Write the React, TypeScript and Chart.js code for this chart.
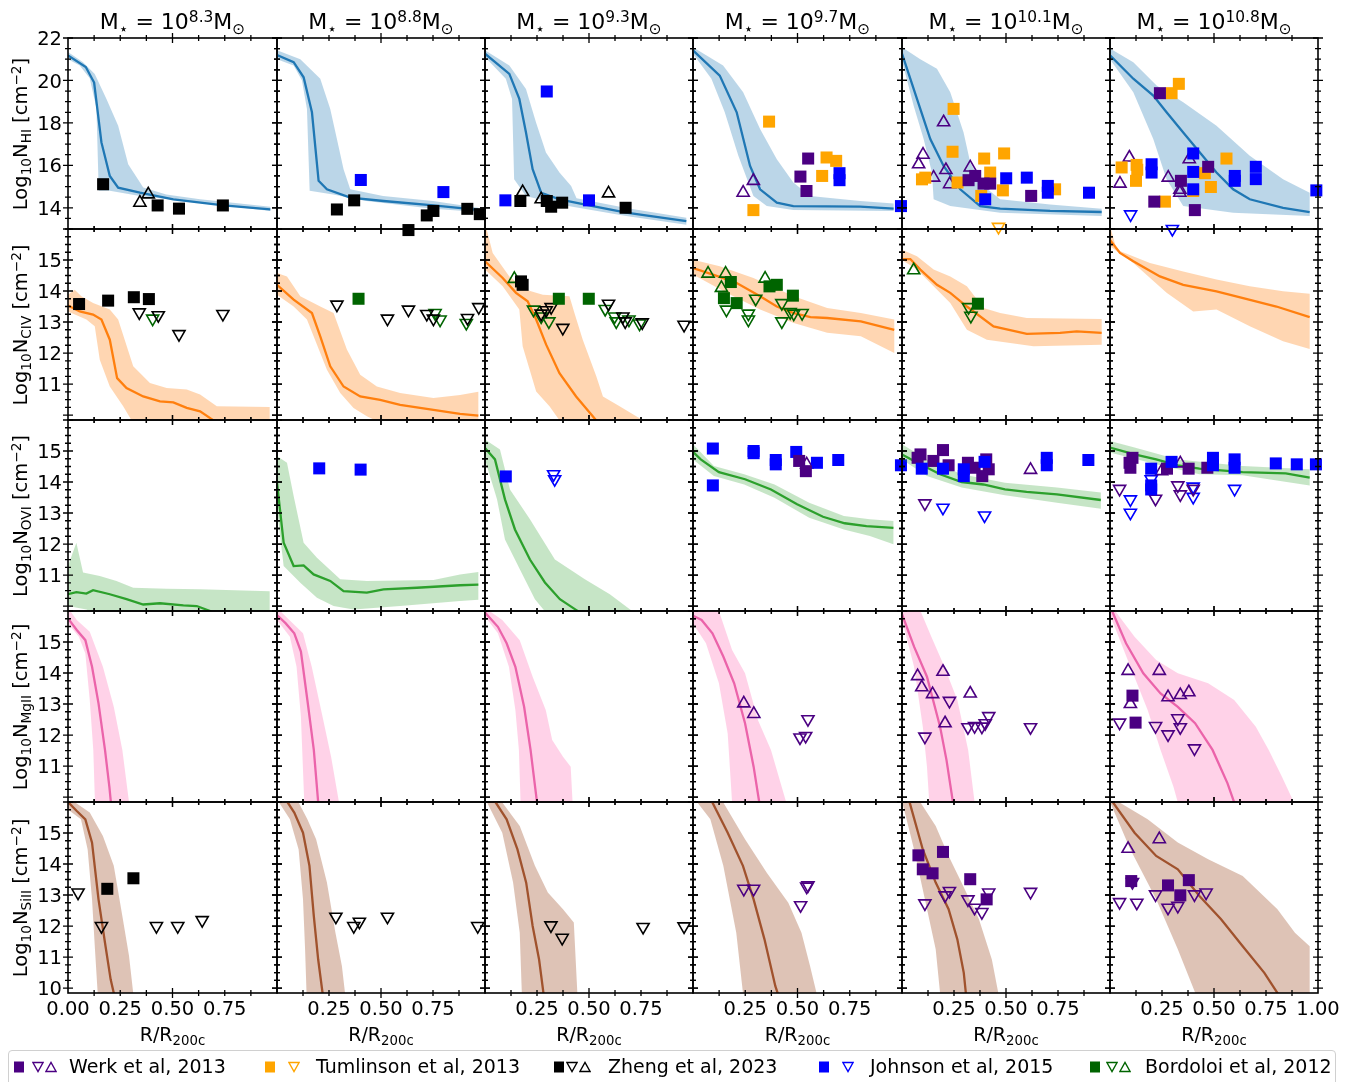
import React, { useEffect, useRef } from 'react';
import { Chart, registerables } from 'chart.js';
Chart.register(...registerables);

type Pt = [number, number];

// ---------------- labels ----------------
const MASS_EXPONENTS = ['8.3', '8.8', '9.3', '9.7', '10.1', '10.8'];
const IONS = ['HI', 'CIV', 'OVI', 'MgII', 'SiII'];
const Y_RANGES: Pt[] = [[13, 22], [9.84, 16], [9.84, 16], [9.84, 16], [9.84, 16]];
const Y_LABELS_HI = [14, 16, 18, 20, 22];
const Y_LABELS_ION = [11, 12, 13, 14, 15];
const Y_LABELS_SIII = [10, 11, 12, 13, 14, 15];
const X_LABELS_FIRST = [0, 0.25, 0.5, 0.75];
const X_LABELS_MID = [0.25, 0.5, 0.75];
const X_LABELS_LAST = [0.25, 0.5, 0.75, 1.0];
const X_MAJOR_TICKS = [0.5];
const X_MINOR_TICKS = [0.125, 0.25, 0.375, 0.625, 0.75, 0.875];
const HI_MAJOR_TICKS = [14, 16, 18, 20, 22];
const HI_MINOR_TICKS = [13, 13.5, 14.5, 15, 15.5, 16.5, 17, 17.5, 18.5, 19, 19.5, 20.5, 21, 21.5];
const ION_MAJOR_TICKS = [10, 11, 12, 13, 14, 15, 16];
const ION_MINOR_TICKS = [10.25, 10.5, 10.75, 11.25, 11.5, 11.75, 12.25, 12.5, 12.75, 13.25, 13.5, 13.75, 14.25, 14.5, 14.75, 15.25, 15.5, 15.75];

// ---------------- colours ----------------
const WERK = '#4b0082';
const TUMLINSON = '#ffa500';
const ZHENG = '#000000';
const JOHNSON = '#0000ff';
const BORDOLOI = '#006400';
const LINE_COLORS = ['#1f77b4', '#ff7f0e', '#2ca02c', 'rgb(235,100,170)', '#a0522d'];
const BAND_COLORS = ['rgba(31,119,180,0.3)', 'rgba(255,127,14,0.32)', 'rgba(44,160,44,0.27)', 'rgba(255,105,180,0.3)', 'rgba(160,82,45,0.35)'];

const LEGEND_NAMES = ['Werk et al, 2013', 'Tumlinson et al, 2013', 'Zheng et al, 2023', 'Johnson et al, 2015', 'Bordoloi et al, 2012'];
const LEGEND_COLORS = [WERK, TUMLINSON, ZHENG, JOHNSON, BORDOLOI];
const LEGEND_SHAPES = [['sq', 'dn', 'up'], ['sq', 'dn'], ['sq', 'dn', 'up'], ['sq', 'dn'], ['sq', 'dn', 'up']];

// ---------------- HI ----------------
const HI1_MED: Pt[] = [[0, 21.18], [0.085, 20.63], [0.125, 19.9], [0.16, 17.08], [0.2, 15.5], [0.24, 14.95], [0.344, 14.71], [0.504, 14.4], [0.744, 14.11], [0.968, 13.92]];
const HI1_UP: Pt[] = [[0, 21.34], [0.072, 20.86], [0.128, 20.3], [0.184, 19.13], [0.24, 17.87], [0.288, 16.05], [0.36, 14.95], [0.47, 14.63], [0.632, 14.4], [0.968, 14.05]];
const HI1_LO: Pt[] = [[0, 21.0], [0.056, 20.7], [0.104, 20.1], [0.136, 18.7], [0.147, 14.8], [0.2, 14.8], [0.344, 14.55], [0.632, 14.24], [0.968, 13.85]];
const HI2_MED: Pt[] = [[0, 21.2], [0.08, 20.86], [0.128, 20.15], [0.168, 18.5], [0.2, 15.27], [0.24, 14.87], [0.352, 14.48], [0.512, 14.32], [0.752, 14.11], [0.968, 13.9]];
const HI2_UP: Pt[] = [[0, 21.42], [0.112, 21.0], [0.208, 20.08], [0.256, 18.66], [0.288, 17.24], [0.32, 15.82], [0.352, 14.87], [0.51, 14.56], [0.75, 14.32], [0.968, 14.0]];
const HI2_LO: Pt[] = [[0, 21.0], [0.08, 20.7], [0.12, 20.0], [0.144, 18.66], [0.157, 14.8], [0.27, 14.63], [0.43, 14.32], [0.75, 13.96], [0.968, 13.8]];
const HI3_MED: Pt[] = [[0, 21.26], [0.117, 20.31], [0.165, 19.13], [0.197, 17.55], [0.229, 15.82], [0.27, 14.71], [0.358, 14.4], [0.518, 14.08], [0.679, 13.77], [0.968, 13.37]];
const HI3_UP: Pt[] = [[0, 21.42], [0.117, 20.7], [0.197, 19.6], [0.245, 18.03], [0.293, 16.6], [0.358, 15.66], [0.414, 15.03], [0.44, 14.45], [0.679, 13.99], [0.968, 13.53]];
const HI3_LO: Pt[] = [[0, 21.1], [0.1, 20.08], [0.13, 19.13], [0.14, 15.34], [0.197, 14.56], [0.358, 14.16], [0.679, 13.61], [0.968, 13.2]];
const HI4_MED: Pt[] = [[0, 21.42], [0.128, 20.23], [0.209, 18.5], [0.273, 15.97], [0.321, 14.87], [0.401, 14.24], [0.48, 14.08], [0.8, 14.05], [0.96, 13.96]];
const HI4_UP: Pt[] = [[0, 21.57], [0.144, 20.7], [0.24, 19.44], [0.321, 17.71], [0.401, 16.29], [0.48, 15.19], [0.56, 14.56], [0.8, 14.32], [0.96, 14.2]];
const HI4_LO: Pt[] = [[0, 21.26], [0.088, 20.08], [0.152, 18.5], [0.217, 16.45], [0.289, 14.56], [0.353, 14.08], [0.48, 13.89], [0.96, 13.85]];
const HI5_MED: Pt[] = [[0, 21.26], [0.072, 19.13], [0.136, 17.24], [0.2, 15.97], [0.28, 14.87], [0.376, 14.08], [0.472, 13.96], [0.712, 13.85], [0.96, 13.8]];
const HI5_UP: Pt[] = [[0, 21.57], [0.088, 21.0], [0.168, 20.55], [0.232, 19.44], [0.296, 17.55], [0.328, 16.13], [0.392, 15.03], [0.472, 14.4], [0.712, 14.16], [0.96, 13.96]];
const HI5_LO: Pt[] = [[0, 20.94], [0.056, 18.81], [0.104, 17.24], [0.144, 15.66], [0.152, 14.4], [0.232, 14.08], [0.472, 13.77], [0.96, 13.61]];
const HI6_MED: Pt[] = [[0, 21.18], [0.112, 20.08], [0.208, 19.29], [0.272, 18.5], [0.352, 17.55], [0.432, 16.6], [0.512, 15.66], [0.592, 14.87], [0.672, 14.4], [0.832, 14.0], [0.96, 13.8]];
const HI6_UP: Pt[] = [[0, 21.5], [0.112, 20.86], [0.224, 19.76], [0.352, 18.97], [0.512, 17.87], [0.672, 16.45], [0.832, 15.34], [0.96, 14.71]];
const HI6_LO: Pt[] = [[0, 21.0], [0.112, 19.44], [0.208, 17.24], [0.272, 15.34], [0.352, 14.08], [0.592, 13.77], [0.96, 13.61]];

// ---------------- CIV ----------------
const CIV1_MED: Pt[] = [[0, 13.53], [0.056, 13.34], [0.12, 13.24], [0.16, 13.08], [0.2, 12.43], [0.235, 11.19], [0.28, 10.87], [0.36, 10.6], [0.44, 10.44], [0.504, 10.41], [0.568, 10.23], [0.632, 10.12], [0.696, 9.83], [0.75, 9.5]];
const CIV1_UP: Pt[] = [[0, 13.88], [0.032, 14.04], [0.064, 13.83], [0.12, 13.61], [0.2, 13.4], [0.24, 13.08], [0.312, 11.57], [0.392, 11.03], [0.472, 10.87], [0.568, 10.82], [0.632, 10.66], [0.712, 10.28], [0.965, 10.26]];
const CIV1_LO: Pt[] = [[0, 13.34], [0.088, 13.08], [0.128, 12.86], [0.152, 11.78], [0.2, 10.92], [0.264, 10.28], [0.304, 9.83], [0.35, 9.4], [0.965, 9.4]];
const CIV2_MED: Pt[] = [[0, 14.2], [0.08, 13.72], [0.168, 13.29], [0.208, 12.54], [0.256, 11.57], [0.32, 10.92], [0.4, 10.6], [0.496, 10.49], [0.592, 10.33], [0.752, 10.17], [0.88, 10.04], [0.968, 9.98]];
const CIV2_UP: Pt[] = [[0, 14.58], [0.048, 14.47], [0.112, 13.83], [0.208, 13.5], [0.272, 13.29], [0.336, 12.11], [0.4, 11.3], [0.48, 10.92], [0.592, 10.71], [0.752, 10.55], [0.88, 10.65], [0.968, 10.75]];
const CIV2_LO: Pt[] = [[0, 13.88], [0.08, 13.5], [0.144, 13.08], [0.176, 12.54], [0.24, 11.46], [0.304, 10.71], [0.368, 10.23], [0.432, 9.96], [0.512, 9.7], [0.968, 9.5]];
const CIV3_MED: Pt[] = [[0, 14.96], [0.085, 14.42], [0.149, 13.94], [0.205, 13.67], [0.246, 13.08], [0.294, 12.27], [0.358, 11.35], [0.438, 10.6], [0.518, 9.96], [0.6, 9.3]];
const CIV3_UP: Pt[] = [[0, 16.2], [0.037, 15.23], [0.117, 14.47], [0.197, 14.04], [0.278, 13.88], [0.406, 13.83], [0.43, 13.29], [0.47, 12.43], [0.535, 11.25], [0.567, 10.6], [0.647, 10.28], [0.743, 9.9], [0.8, 9.5]];
const CIV3_LO: Pt[] = [[0, 14.69], [0.085, 14.15], [0.165, 13.4], [0.181, 12.22], [0.246, 10.76], [0.31, 10.28], [0.358, 9.83], [0.4, 9.5]];
const CIV4_MED: Pt[] = [[0, 14.74], [0.096, 14.53], [0.209, 14.26], [0.321, 13.83], [0.401, 13.5], [0.482, 13.29], [0.562, 13.16], [0.642, 13.13], [0.803, 13.02], [0.963, 12.75]];
const CIV4_UP: Pt[] = [[0, 15.01], [0.128, 14.8], [0.289, 14.42], [0.482, 13.83], [0.642, 13.45], [0.803, 13.29], [0.963, 13.08]];
const CIV4_LO: Pt[] = [[0, 14.53], [0.16, 13.94], [0.321, 13.4], [0.482, 12.97], [0.642, 12.65], [0.803, 12.54], [0.963, 12.0]];
const CIV5_MED: Pt[] = [[0, 15.03], [0.04, 15.03], [0.088, 14.69], [0.168, 14.2], [0.232, 13.94], [0.312, 13.5], [0.44, 12.86], [0.6, 12.62], [0.76, 12.65], [0.84, 12.7], [0.96, 12.65]];
const CIV5_UP: Pt[] = [[0, 15.33], [0.072, 15.12], [0.152, 14.69], [0.232, 14.47], [0.312, 14.15], [0.392, 13.45], [0.472, 13.29], [0.6, 13.13], [0.96, 13.1]];
const CIV5_LO: Pt[] = [[0, 15.0], [0.072, 14.69], [0.152, 14.15], [0.232, 13.61], [0.312, 12.75], [0.408, 12.43], [0.632, 12.22], [0.96, 12.27]];
const CIV6_MED: Pt[] = [[0, 15.65], [0.048, 15.23], [0.112, 14.96], [0.24, 14.47], [0.352, 14.2], [0.512, 13.99], [0.64, 13.77], [0.8, 13.5], [0.96, 13.16]];
const CIV6_UP: Pt[] = [[0, 16.1], [0.032, 15.33], [0.192, 14.9], [0.352, 14.63], [0.512, 14.37], [0.672, 14.15], [0.832, 13.99], [0.96, 13.91]];
const CIV6_LO: Pt[] = [[0, 15.44], [0.112, 14.9], [0.272, 13.94], [0.4, 13.34], [0.512, 13.4], [0.672, 12.86], [0.832, 12.38], [0.96, 12.13]];

// ---------------- OVI ----------------
const OVI1_MED: Pt[] = [[0, 10.38], [0.04, 10.45], [0.088, 10.4], [0.12, 10.51], [0.2, 10.38], [0.28, 10.22], [0.36, 10.05], [0.44, 10.09], [0.552, 10.02], [0.616, 10.0], [0.68, 9.84], [0.75, 9.6]];
const OVI1_UP: Pt[] = [[0, 11.29], [0.04, 12.04], [0.072, 11.08], [0.152, 10.97], [0.232, 10.81], [0.312, 10.59], [0.472, 10.56], [0.632, 10.54], [0.965, 10.48]];
const OVI1_LO: Pt[] = [[0, 10.0], [0.088, 9.89], [0.152, 9.7], [0.965, 9.5]];
const OVI2_MED: Pt[] = [[0, 13.98], [0.032, 12.04], [0.08, 11.29], [0.128, 11.31], [0.176, 11.02], [0.256, 10.81], [0.32, 10.48], [0.432, 10.43], [0.512, 10.54], [0.672, 10.59], [0.88, 10.67], [0.968, 10.69]];
const OVI2_UP: Pt[] = [[0, 14.84], [0.048, 14.62], [0.08, 13.55], [0.128, 12.04], [0.192, 11.56], [0.304, 10.86], [0.432, 10.81], [0.752, 10.84], [0.88, 11.02], [0.968, 11.1]];
const OVI2_LO: Pt[] = [[0, 13.12], [0.032, 11.29], [0.112, 10.75], [0.192, 10.27], [0.272, 10.0], [0.368, 9.89], [0.592, 10.0], [0.88, 10.16], [0.968, 10.2]];
const OVI3_MED: Pt[] = [[0, 15.1], [0.048, 14.73], [0.096, 13.44], [0.144, 12.47], [0.216, 11.5], [0.288, 10.76], [0.36, 10.22], [0.432, 9.9], [0.5, 9.6]];
const OVI3_UP: Pt[] = [[0, 15.37], [0.072, 15.05], [0.12, 13.76], [0.216, 12.8], [0.336, 11.5], [0.48, 10.86], [0.6, 10.38], [0.696, 9.9], [0.75, 9.6]];
const OVI3_LO: Pt[] = [[0, 14.73], [0.058, 13.44], [0.096, 12.15], [0.168, 11.18], [0.24, 10.22], [0.288, 9.83], [0.33, 9.5]];
const OVI4_MED: Pt[] = [[0, 14.97], [0.037, 14.73], [0.124, 14.32], [0.249, 14.09], [0.373, 13.76], [0.498, 13.28], [0.622, 12.88], [0.726, 12.67], [0.83, 12.58], [0.959, 12.52]];
const OVI4_UP: Pt[] = [[0, 15.22], [0.1, 14.52], [0.245, 14.25], [0.39, 13.92], [0.556, 13.33], [0.722, 12.9], [0.846, 12.8], [0.959, 12.74]];
const OVI4_LO: Pt[] = [[0, 14.73], [0.1, 14.19], [0.245, 13.92], [0.39, 13.49], [0.556, 12.85], [0.722, 12.47], [0.846, 12.26], [0.959, 11.99]];
const OVI5_MED: Pt[] = [[0, 14.89], [0.058, 14.68], [0.183, 14.25], [0.287, 14.0], [0.391, 13.92], [0.495, 13.76], [0.599, 13.68], [0.745, 13.6], [0.956, 13.42]];
const OVI5_UP: Pt[] = [[0, 15.22], [0.12, 14.73], [0.287, 14.25], [0.495, 13.98], [0.745, 13.82], [0.956, 13.66]];
const OVI5_LO: Pt[] = [[0, 14.73], [0.12, 14.19], [0.287, 13.82], [0.495, 13.57], [0.745, 13.33], [0.956, 13.14]];
const OVI6_MED: Pt[] = [[0, 15.11], [0.118, 14.89], [0.222, 14.73], [0.326, 14.54], [0.43, 14.43], [0.637, 14.32], [0.845, 14.28], [0.96, 14.14]];
const OVI6_UP: Pt[] = [[0, 15.32], [0.118, 15.11], [0.326, 14.73], [0.637, 14.52], [0.96, 14.41]];
const OVI6_LO: Pt[] = [[0, 14.95], [0.222, 14.57], [0.43, 14.25], [0.637, 14.22], [0.96, 13.89]];

// ---------------- MgII ----------------
const MG1_MED: Pt[] = [[0, 15.76], [0.042, 15.39], [0.083, 15.06], [0.115, 14.2], [0.146, 13.02], [0.177, 11.52], [0.198, 10.33], [0.21, 9.5]];
const MG1_UP: Pt[] = [[0, 16.1], [0.042, 15.71], [0.104, 15.33], [0.167, 14.2], [0.219, 12.91], [0.26, 11.52], [0.292, 9.83], [0.3, 9.5]];
const MG1_LO: Pt[] = [[0, 15.6], [0.052, 15.17], [0.083, 14.63], [0.104, 13.13], [0.121, 11.52], [0.129, 9.83], [0.13, 9.5]];
const MG2_MED: Pt[] = [[0, 15.87], [0.042, 15.6], [0.083, 15.28], [0.115, 14.69], [0.146, 13.13], [0.177, 11.52], [0.198, 9.83], [0.2, 9.5]];
const MG2_UP: Pt[] = [[0, 16.1], [0.052, 15.76], [0.125, 15.28], [0.167, 14.2], [0.219, 12.59], [0.26, 11.3], [0.298, 9.83], [0.3, 9.5]];
const MG2_LO: Pt[] = [[0, 15.71], [0.062, 15.17], [0.094, 14.2], [0.115, 12.59], [0.131, 9.83], [0.133, 9.5]];
const MG3_MED: Pt[] = [[0, 15.95], [0.062, 15.49], [0.104, 14.96], [0.146, 14.2], [0.188, 12.91], [0.219, 11.52], [0.25, 9.83], [0.255, 9.5]];
const MG3_UP: Pt[] = [[0, 16.1], [0.083, 15.71], [0.167, 15.06], [0.229, 13.88], [0.292, 12.81], [0.323, 11.84], [0.375, 11.3], [0.412, 10.98], [0.421, 9.83], [0.422, 9.5]];
const MG3_LO: Pt[] = [[0, 15.82], [0.062, 15.28], [0.115, 14.2], [0.146, 12.81], [0.163, 11.52], [0.171, 9.83], [0.173, 9.5]];
const MG4_MED: Pt[] = [[0, 15.85], [0.041, 15.71], [0.093, 15.28], [0.145, 14.53], [0.197, 13.67], [0.249, 12.38], [0.29, 10.98], [0.317, 9.83], [0.325, 9.5]];
const MG4_UP: Pt[] = [[0, 16.1], [0.124, 16.0], [0.187, 14.74], [0.249, 13.99], [0.311, 12.48], [0.373, 11.52], [0.446, 9.83], [0.45, 9.5]];
const MG4_LO: Pt[] = [[0, 15.6], [0.062, 14.96], [0.124, 13.67], [0.166, 12.05], [0.187, 9.83], [0.19, 9.5]];
const MG5_MED: Pt[] = [[0, 15.9], [0.058, 14.85], [0.12, 13.88], [0.183, 12.27], [0.214, 11.19], [0.245, 9.83], [0.25, 9.5]];
const MG5_UP: Pt[] = [[0, 16.1], [0.089, 16.0], [0.141, 15.17], [0.204, 14.2], [0.266, 13.13], [0.318, 11.52], [0.349, 9.83], [0.355, 9.5]];
const MG5_LO: Pt[] = [[0, 15.71], [0.058, 14.2], [0.1, 12.27], [0.12, 10.98], [0.131, 9.83], [0.135, 9.5]];
const MG6_MED: Pt[] = [[0.01, 16.0], [0.077, 14.96], [0.16, 13.99], [0.243, 13.34], [0.326, 12.91], [0.409, 12.38], [0.493, 11.52], [0.565, 10.44], [0.597, 9.83], [0.61, 9.5]];
const MG6_UP: Pt[] = [[0, 16.1], [0.025, 16.0], [0.118, 15.17], [0.222, 14.42], [0.326, 13.99], [0.472, 13.67], [0.597, 13.13], [0.701, 12.27], [0.763, 11.52], [0.826, 10.66], [0.884, 9.83], [0.89, 9.5]];
const MG6_LO: Pt[] = [[0, 15.87], [0.098, 14.2], [0.181, 12.81], [0.243, 11.52], [0.305, 10.33], [0.326, 9.83], [0.33, 9.5]];

// ---------------- SiII ----------------
const SI1_MED: Pt[] = [[0, 16.0], [0.042, 15.71], [0.083, 15.44], [0.115, 14.69], [0.146, 12.86], [0.177, 11.46], [0.204, 10.28], [0.219, 9.84], [0.225, 9.5]];
const SI1_UP: Pt[] = [[0, 16.2], [0.031, 16.0], [0.104, 15.66], [0.167, 14.9], [0.219, 13.94], [0.26, 12.32], [0.292, 11.03], [0.312, 9.84], [0.315, 9.5]];
const SI1_LO: Pt[] = [[0, 15.76], [0.062, 15.44], [0.094, 14.47], [0.115, 12.86], [0.129, 11.25], [0.142, 9.84], [0.145, 9.5]];
const SI2_MED: Pt[] = [[0.04, 16.2], [0.052, 15.98], [0.083, 15.66], [0.125, 15.01], [0.156, 13.94], [0.177, 12.32], [0.198, 10.92], [0.219, 9.84], [0.225, 9.5]];
const SI2_UP: Pt[] = [[0.09, 16.2], [0.104, 15.98], [0.146, 15.44], [0.188, 14.8], [0.24, 13.4], [0.281, 11.78], [0.312, 10.71], [0.327, 9.84], [0.33, 9.5]];
const SI2_LO: Pt[] = [[0, 16.2], [0.01, 15.98], [0.062, 15.44], [0.104, 14.47], [0.125, 12.86], [0.135, 11.25], [0.142, 9.84], [0.145, 9.5]];
const SI3_MED: Pt[] = [[0.04, 16.2], [0.052, 15.98], [0.104, 15.44], [0.156, 14.47], [0.198, 13.4], [0.229, 12.0], [0.26, 10.92], [0.281, 9.84], [0.285, 9.5]];
const SI3_UP: Pt[] = [[0.07, 16.2], [0.083, 15.98], [0.167, 15.23], [0.24, 13.94], [0.302, 13.08], [0.375, 12.54], [0.427, 12.11], [0.444, 9.84], [0.445, 9.5]];
const SI3_LO: Pt[] = [[0, 16.2], [0.01, 15.98], [0.083, 15.01], [0.135, 13.4], [0.167, 11.78], [0.177, 9.84], [0.18, 9.5]];
const SI4_MED: Pt[] = [[0.08, 16.2], [0.093, 15.98], [0.166, 15.01], [0.239, 13.94], [0.29, 12.86], [0.342, 11.57], [0.394, 10.06], [0.405, 9.84], [0.41, 9.5]];
const SI4_UP: Pt[] = [[0.13, 16.2], [0.145, 15.98], [0.249, 14.8], [0.353, 13.72], [0.456, 12.75], [0.519, 11.78], [0.56, 10.71], [0.591, 9.84], [0.6, 9.5]];
const SI4_LO: Pt[] = [[0.01, 16.2], [0.021, 15.98], [0.083, 15.44], [0.145, 13.94], [0.207, 11.78], [0.239, 9.84], [0.245, 9.5]];
const SI5_MED: Pt[] = [[0.03, 16.2], [0.037, 15.98], [0.1, 14.47], [0.162, 13.4], [0.224, 12.54], [0.266, 11.57], [0.297, 10.49], [0.307, 9.84], [0.31, 9.5]];
const SI5_UP: Pt[] = [[0.08, 16.2], [0.089, 15.98], [0.162, 15.23], [0.224, 14.26], [0.286, 13.4], [0.37, 12.22], [0.432, 10.92], [0.463, 9.84], [0.47, 9.5]];
const SI5_LO: Pt[] = [[0, 16.0], [0.006, 15.87], [0.058, 14.47], [0.11, 12.86], [0.162, 11.25], [0.183, 9.84], [0.19, 9.5]];
const SI6_MED: Pt[] = [[0, 16.2], [0.015, 15.98], [0.118, 15.01], [0.222, 14.26], [0.326, 13.83], [0.43, 12.97], [0.534, 12.22], [0.638, 11.35], [0.742, 10.49], [0.805, 9.84], [0.82, 9.5]];
const SI6_UP: Pt[] = [[0.03, 16.2], [0.046, 15.98], [0.181, 15.44], [0.326, 14.69], [0.472, 14.15], [0.638, 13.61], [0.805, 12.54], [0.889, 11.78], [0.96, 11.35], [0.96, 9.5]];
const SI6_LO: Pt[] = [[0, 16.0], [0.098, 14.47], [0.222, 12.86], [0.326, 11.25], [0.41, 9.84], [0.42, 9.5]];

// ---------------- observations ----------------
const HI1_ZHENG_SQ: Pt[] = [[0.168, 15.11], [0.429, 14.11], [0.531, 13.96], [0.741, 14.11]];
const HI1_ZHENG_UP: Pt[] = [[0.344, 14.24], [0.384, 14.63]];
const HI2_ZHENG_SQ: Pt[] = [[0.288, 13.92], [0.371, 14.35], [0.632, 12.95], [0.72, 13.64], [0.752, 13.85], [0.915, 13.95], [0.975, 13.7]];
const HI2_JOHNSON_SQ: Pt[] = [[0.403, 15.31], [0.8, 14.74]];
const HI3_JOHNSON_SQ: Pt[] = [[0.297, 19.48], [0.098, 14.35], [0.5, 14.35]];
const HI3_ZHENG_SQ: Pt[] = [[0.17, 14.32], [0.297, 14.32], [0.318, 14.05], [0.371, 14.24], [0.676, 14.0]];
const HI3_ZHENG_UP: Pt[] = [[0.181, 14.74], [0.27, 14.4], [0.594, 14.68]];
const HI4_TUMLINSON_SQ: Pt[] = [[0.364, 18.06], [0.289, 13.89], [0.639, 16.37], [0.685, 16.21], [0.618, 15.5]];
const HI4_WERK_SQ: Pt[] = [[0.551, 16.32], [0.514, 15.47], [0.543, 14.79]];
const HI4_JOHNSON_SQ: Pt[] = [[0.701, 15.63], [0.701, 15.3], [0.995, 14.08]];
const HI4_WERK_UP: Pt[] = [[0.24, 14.71], [0.289, 15.27]];
const HI5_TUMLINSON_SQ: Pt[] = [[0.248, 18.66], [0.243, 16.64], [0.112, 15.42], [0.096, 15.34], [0.267, 15.19], [0.395, 16.32], [0.491, 16.56], [0.424, 15.66], [0.485, 14.82], [0.381, 14.56], [0.736, 14.87]];
const HI5_WERK_SQ: Pt[] = [[0.32, 15.3], [0.352, 15.5], [0.392, 15.14], [0.424, 15.14], [0.621, 14.56]];
const HI5_JOHNSON_SQ: Pt[] = [[0.501, 15.39], [0.6, 15.42], [0.701, 15.03], [0.701, 14.71], [0.899, 14.71], [0.4, 14.4]];
const HI5_WERK_UP: Pt[] = [[0.2, 18.03], [0.101, 16.5], [0.08, 16.05], [0.152, 15.42], [0.211, 15.78], [0.229, 15.11], [0.328, 15.9]];
const HI5_TUMLINSON_DN: Pt[] = [[0.464, 13.1]];
const HI6_WERK_SQ: Pt[] = [[0.24, 19.4], [0.472, 15.93], [0.341, 15.27], [0.213, 14.29], [0.408, 13.89]];
const HI6_TUMLINSON_SQ: Pt[] = [[0.296, 19.4], [0.331, 19.84], [0.056, 15.9], [0.128, 16.02], [0.131, 15.79], [0.125, 15.27], [0.456, 15.63], [0.485, 14.98], [0.56, 16.32], [0.264, 14.29], [0.4, 14.79]];
const HI6_JOHNSON_SQ: Pt[] = [[0.2, 16.05], [0.2, 15.66], [0.4, 16.56], [0.4, 15.69], [0.4, 14.87], [0.6, 15.5], [0.6, 15.27], [0.701, 15.93], [0.701, 15.35], [0.992, 14.82]];
const HI6_WERK_UP: Pt[] = [[0.093, 16.37], [0.048, 15.14], [0.28, 15.42], [0.381, 16.29], [0.336, 14.85], [0.336, 14.71]];
const HI6_JOHNSON_DN: Pt[] = [[0.099, 13.69], [0.3, 13.0]];

const CIV1_ZHENG_SQ: Pt[] = [[0.053, 13.58], [0.192, 13.69], [0.315, 13.8], [0.387, 13.74]];
const CIV1_ZHENG_DN: Pt[] = [[0.341, 13.31], [0.432, 13.22], [0.531, 12.61], [0.741, 13.26]];
const CIV1_BORDOLOI_DN: Pt[] = [[0.405, 13.11]];
const CIV2_ZHENG_DN: Pt[] = [[0.288, 13.56], [0.531, 13.11], [0.632, 13.4], [0.72, 13.26], [0.752, 13.11], [0.916, 13.13], [0.97, 13.48]];
const CIV2_BORDOLOI_SQ: Pt[] = [[0.392, 13.75]];
const CIV2_BORDOLOI_DN: Pt[] = [[0.76, 13.29], [0.784, 13.08], [0.91, 12.97]];
const CIV3_ZHENG_SQ: Pt[] = [[0.173, 14.31], [0.181, 14.2]];
const CIV3_BORDOLOI_UP: Pt[] = [[0.141, 14.39]];
const CIV3_BORDOLOI_SQ: Pt[] = [[0.355, 13.75], [0.499, 13.75]];
const CIV3_BORDOLOI_DN: Pt[] = [[0.233, 13.4], [0.27, 13.18], [0.307, 13.02], [0.578, 13.42], [0.623, 13.18], [0.631, 13.02], [0.692, 13.08], [0.743, 12.95]];
const CIV3_ZHENG_DN: Pt[] = [[0.27, 13.27], [0.294, 13.38], [0.318, 13.48], [0.374, 12.81], [0.594, 13.59], [0.663, 13.18], [0.674, 13.02], [0.756, 12.99], [0.957, 12.91]];
const CIV4_BORDOLOI_UP: Pt[] = [[0.072, 14.56], [0.156, 14.56], [0.136, 14.1], [0.345, 14.4]];
const CIV4_BORDOLOI_SQ: Pt[] = [[0.181, 14.29], [0.148, 13.77], [0.209, 13.61], [0.366, 14.15], [0.401, 14.2], [0.478, 13.85]];
const CIV4_BORDOLOI_DN: Pt[] = [[0.16, 13.4], [0.265, 13.08], [0.265, 13.27], [0.3, 13.75], [0.425, 13.61], [0.425, 13.02], [0.465, 13.32], [0.482, 13.27], [0.522, 13.29]];
const CIV5_BORDOLOI_UP: Pt[] = [[0.056, 14.67]];
const CIV5_BORDOLOI_SQ: Pt[] = [[0.365, 13.59]];
const CIV5_BORDOLOI_DN: Pt[] = [[0.32, 13.48], [0.331, 13.2]];

const OVI2_JOHNSON_SQ: Pt[] = [[0.203, 14.44], [0.402, 14.4]];
const OVI3_JOHNSON_SQ: Pt[] = [[0.1, 14.18]];
const OVI3_JOHNSON_DN: Pt[] = [[0.33, 14.25], [0.335, 14.09]];
const OVI4_JOHNSON_SQ: Pt[] = [[0.095, 15.08], [0.095, 13.89], [0.29, 15.0], [0.29, 14.93], [0.396, 14.71], [0.396, 14.57], [0.494, 14.97], [0.593, 14.62], [0.695, 14.71], [0.995, 14.54]];
const OVI4_WERK_SQ: Pt[] = [[0.508, 14.68], [0.54, 14.35]];
const OVI4_WERK_UP: Pt[] = [[0.544, 14.57]];
const OVI5_WERK_SQ: Pt[] = [[0.089, 14.89], [0.075, 14.78], [0.197, 15.03], [0.151, 14.68], [0.224, 14.54], [0.317, 14.62], [0.349, 14.46], [0.405, 14.73], [0.417, 14.41], [0.386, 14.19]];
const OVI5_JOHNSON_SQ: Pt[] = [[0.095, 14.43], [0.197, 14.43], [0.297, 14.41], [0.297, 14.19], [0.397, 14.65], [0.696, 14.78], [0.696, 14.54], [0.896, 14.71]];
const OVI5_WERK_UP: Pt[] = [[0.618, 14.39]];
const OVI5_WERK_DN: Pt[] = [[0.11, 13.31]];
const OVI5_JOHNSON_DN: Pt[] = [[0.197, 13.17], [0.397, 12.92]];
const OVI6_WERK_SQ: Pt[] = [[0.094, 14.62], [0.108, 14.78], [0.098, 14.46], [0.274, 14.43], [0.378, 14.43], [0.468, 14.46]];
const OVI6_JOHNSON_SQ: Pt[] = [[0.198, 14.43], [0.198, 13.89], [0.198, 13.76], [0.296, 14.65], [0.495, 14.78], [0.495, 14.54], [0.599, 14.73], [0.599, 14.46], [0.797, 14.6], [0.898, 14.57], [0.99, 14.57]];
const OVI6_WERK_UP: Pt[] = [[0.338, 14.6], [0.248, 14.35]];
const OVI6_WERK_DN: Pt[] = [[0.046, 13.78], [0.219, 13.46], [0.326, 13.89], [0.338, 13.6], [0.4, 13.78]];
const OVI6_JOHNSON_DN: Pt[] = [[0.098, 13.44], [0.098, 13.01], [0.198, 14.09], [0.4, 13.85], [0.4, 13.52], [0.599, 13.78]];

const MG4_WERK_UP: Pt[] = [[0.243, 13.02], [0.291, 12.68]];
const MG4_WERK_DN: Pt[] = [[0.55, 12.51], [0.512, 11.92], [0.539, 11.97]];
const MG5_WERK_UP: Pt[] = [[0.075, 13.9], [0.197, 14.04], [0.095, 13.54], [0.147, 13.32], [0.328, 13.34], [0.207, 12.38]];
const MG5_WERK_DN: Pt[] = [[0.11, 11.95], [0.228, 13.1], [0.317, 12.25], [0.349, 12.29], [0.384, 12.27], [0.4, 12.38], [0.417, 12.61], [0.618, 12.25]];
const MG6_WERK_SQ: Pt[] = [[0.108, 13.27], [0.123, 12.4]];
const MG6_WERK_UP: Pt[] = [[0.087, 14.07], [0.237, 14.07], [0.098, 13.0], [0.279, 13.22], [0.338, 13.29], [0.379, 13.38]];
const MG6_WERK_DN: Pt[] = [[0.046, 12.4], [0.219, 12.29], [0.279, 12.02], [0.326, 12.54], [0.338, 12.25], [0.406, 11.57]];

const SI1_ZHENG_SQ: Pt[] = [[0.188, 13.2], [0.313, 13.54]];
const SI1_ZHENG_DN: Pt[] = [[0.048, 13.08], [0.16, 12.0], [0.423, 12.0], [0.525, 12.0], [0.642, 12.19]];
const SI2_ZHENG_DN: Pt[] = [[0.283, 12.3], [0.369, 12.0], [0.396, 12.14], [0.531, 12.3], [0.965, 12.0]];
const SI3_ZHENG_DN: Pt[] = [[0.317, 12.02], [0.371, 11.62], [0.76, 11.97], [0.957, 11.99]];
const SI4_WERK_DN: Pt[] = [[0.243, 13.2], [0.29, 13.2], [0.515, 12.67], [0.544, 13.27], [0.55, 13.31]];
const SI5_WERK_SQ: Pt[] = [[0.079, 14.28], [0.197, 14.39], [0.1, 13.83], [0.147, 13.7], [0.328, 13.51], [0.407, 12.86]];
const SI5_WERK_DN: Pt[] = [[0.11, 12.73], [0.207, 12.99], [0.228, 13.13], [0.317, 12.86], [0.349, 12.59], [0.384, 12.45], [0.417, 13.08], [0.618, 13.1]];
const SI6_WERK_UP: Pt[] = [[0.087, 14.49], [0.237, 14.8]];
const SI6_WERK_SQ: Pt[] = [[0.102, 13.45], [0.279, 13.31], [0.338, 12.99], [0.379, 13.48]];
const SI6_WERK_DN: Pt[] = [[0.046, 12.77], [0.129, 12.75], [0.219, 13.02], [0.279, 12.59], [0.326, 12.65], [0.406, 13.02], [0.462, 13.08], [0.108, 13.42]];

// ---------------- panel table ----------------
type Obs = [string, 'sq' | 'up' | 'dn', Pt[]];
type Panel = { r: number; c: number; med: Pt[]; up: Pt[]; lo: Pt[]; obs: Obs[] };

const PANELS: Panel[] = [
  { r: 0, c: 0, med: HI1_MED, up: HI1_UP, lo: HI1_LO, obs: [[ZHENG, 'sq', HI1_ZHENG_SQ], [ZHENG, 'up', HI1_ZHENG_UP]] },
  { r: 0, c: 1, med: HI2_MED, up: HI2_UP, lo: HI2_LO, obs: [[ZHENG, 'sq', HI2_ZHENG_SQ], [JOHNSON, 'sq', HI2_JOHNSON_SQ]] },
  { r: 0, c: 2, med: HI3_MED, up: HI3_UP, lo: HI3_LO, obs: [[JOHNSON, 'sq', HI3_JOHNSON_SQ], [ZHENG, 'sq', HI3_ZHENG_SQ], [ZHENG, 'up', HI3_ZHENG_UP]] },
  { r: 0, c: 3, med: HI4_MED, up: HI4_UP, lo: HI4_LO, obs: [[TUMLINSON, 'sq', HI4_TUMLINSON_SQ], [WERK, 'sq', HI4_WERK_SQ], [JOHNSON, 'sq', HI4_JOHNSON_SQ], [WERK, 'up', HI4_WERK_UP]] },
  { r: 0, c: 4, med: HI5_MED, up: HI5_UP, lo: HI5_LO, obs: [[JOHNSON, 'sq', HI5_JOHNSON_SQ], [WERK, 'sq', HI5_WERK_SQ], [TUMLINSON, 'sq', HI5_TUMLINSON_SQ], [WERK, 'up', HI5_WERK_UP], [TUMLINSON, 'dn', HI5_TUMLINSON_DN]] },
  { r: 0, c: 5, med: HI6_MED, up: HI6_UP, lo: HI6_LO, obs: [[JOHNSON, 'sq', HI6_JOHNSON_SQ], [WERK, 'sq', HI6_WERK_SQ], [TUMLINSON, 'sq', HI6_TUMLINSON_SQ], [WERK, 'up', HI6_WERK_UP], [JOHNSON, 'dn', HI6_JOHNSON_DN]] },

  { r: 1, c: 0, med: CIV1_MED, up: CIV1_UP, lo: CIV1_LO, obs: [[ZHENG, 'sq', CIV1_ZHENG_SQ], [ZHENG, 'dn', CIV1_ZHENG_DN], [BORDOLOI, 'dn', CIV1_BORDOLOI_DN]] },
  { r: 1, c: 1, med: CIV2_MED, up: CIV2_UP, lo: CIV2_LO, obs: [[BORDOLOI, 'sq', CIV2_BORDOLOI_SQ], [ZHENG, 'dn', CIV2_ZHENG_DN], [BORDOLOI, 'dn', CIV2_BORDOLOI_DN]] },
  { r: 1, c: 2, med: CIV3_MED, up: CIV3_UP, lo: CIV3_LO, obs: [[ZHENG, 'sq', CIV3_ZHENG_SQ], [BORDOLOI, 'sq', CIV3_BORDOLOI_SQ], [BORDOLOI, 'up', CIV3_BORDOLOI_UP], [ZHENG, 'dn', CIV3_ZHENG_DN], [BORDOLOI, 'dn', CIV3_BORDOLOI_DN]] },
  { r: 1, c: 3, med: CIV4_MED, up: CIV4_UP, lo: CIV4_LO, obs: [[BORDOLOI, 'sq', CIV4_BORDOLOI_SQ], [BORDOLOI, 'up', CIV4_BORDOLOI_UP], [BORDOLOI, 'dn', CIV4_BORDOLOI_DN]] },
  { r: 1, c: 4, med: CIV5_MED, up: CIV5_UP, lo: CIV5_LO, obs: [[BORDOLOI, 'sq', CIV5_BORDOLOI_SQ], [BORDOLOI, 'up', CIV5_BORDOLOI_UP], [BORDOLOI, 'dn', CIV5_BORDOLOI_DN]] },
  { r: 1, c: 5, med: CIV6_MED, up: CIV6_UP, lo: CIV6_LO, obs: [] },

  { r: 2, c: 0, med: OVI1_MED, up: OVI1_UP, lo: OVI1_LO, obs: [] },
  { r: 2, c: 1, med: OVI2_MED, up: OVI2_UP, lo: OVI2_LO, obs: [[JOHNSON, 'sq', OVI2_JOHNSON_SQ]] },
  { r: 2, c: 2, med: OVI3_MED, up: OVI3_UP, lo: OVI3_LO, obs: [[JOHNSON, 'sq', OVI3_JOHNSON_SQ], [JOHNSON, 'dn', OVI3_JOHNSON_DN]] },
  { r: 2, c: 3, med: OVI4_MED, up: OVI4_UP, lo: OVI4_LO, obs: [[WERK, 'sq', OVI4_WERK_SQ], [JOHNSON, 'sq', OVI4_JOHNSON_SQ], [WERK, 'up', OVI4_WERK_UP]] },
  { r: 2, c: 4, med: OVI5_MED, up: OVI5_UP, lo: OVI5_LO, obs: [[JOHNSON, 'sq', OVI5_JOHNSON_SQ], [WERK, 'sq', OVI5_WERK_SQ], [WERK, 'up', OVI5_WERK_UP], [WERK, 'dn', OVI5_WERK_DN], [JOHNSON, 'dn', OVI5_JOHNSON_DN]] },
  { r: 2, c: 5, med: OVI6_MED, up: OVI6_UP, lo: OVI6_LO, obs: [[JOHNSON, 'sq', OVI6_JOHNSON_SQ], [WERK, 'sq', OVI6_WERK_SQ], [WERK, 'up', OVI6_WERK_UP], [WERK, 'dn', OVI6_WERK_DN], [JOHNSON, 'dn', OVI6_JOHNSON_DN]] },

  { r: 3, c: 0, med: MG1_MED, up: MG1_UP, lo: MG1_LO, obs: [] },
  { r: 3, c: 1, med: MG2_MED, up: MG2_UP, lo: MG2_LO, obs: [] },
  { r: 3, c: 2, med: MG3_MED, up: MG3_UP, lo: MG3_LO, obs: [] },
  { r: 3, c: 3, med: MG4_MED, up: MG4_UP, lo: MG4_LO, obs: [[WERK, 'up', MG4_WERK_UP], [WERK, 'dn', MG4_WERK_DN]] },
  { r: 3, c: 4, med: MG5_MED, up: MG5_UP, lo: MG5_LO, obs: [[WERK, 'up', MG5_WERK_UP], [WERK, 'dn', MG5_WERK_DN]] },
  { r: 3, c: 5, med: MG6_MED, up: MG6_UP, lo: MG6_LO, obs: [[WERK, 'sq', MG6_WERK_SQ], [WERK, 'up', MG6_WERK_UP], [WERK, 'dn', MG6_WERK_DN]] },

  { r: 4, c: 0, med: SI1_MED, up: SI1_UP, lo: SI1_LO, obs: [[ZHENG, 'sq', SI1_ZHENG_SQ], [ZHENG, 'dn', SI1_ZHENG_DN]] },
  { r: 4, c: 1, med: SI2_MED, up: SI2_UP, lo: SI2_LO, obs: [[ZHENG, 'dn', SI2_ZHENG_DN]] },
  { r: 4, c: 2, med: SI3_MED, up: SI3_UP, lo: SI3_LO, obs: [[ZHENG, 'dn', SI3_ZHENG_DN]] },
  { r: 4, c: 3, med: SI4_MED, up: SI4_UP, lo: SI4_LO, obs: [[WERK, 'dn', SI4_WERK_DN]] },
  { r: 4, c: 4, med: SI5_MED, up: SI5_UP, lo: SI5_LO, obs: [[WERK, 'sq', SI5_WERK_SQ], [WERK, 'dn', SI5_WERK_DN]] },
  { r: 4, c: 5, med: SI6_MED, up: SI6_UP, lo: SI6_LO, obs: [[WERK, 'sq', SI6_WERK_SQ], [WERK, 'up', SI6_WERK_UP], [WERK, 'dn', SI6_WERK_DN]] },
];

// ---------------- layout ----------------
const COL_EDGES = [68, 277, 485, 693, 902, 1110, 1318];
const ROW_EDGES = [38, 229, 420, 611, 802, 993];
const PAD = 14;
const TICK_FONT = 19.5;

function geom(p: Panel) {
  const padL = p.c === 0 ? 66 : PAD;
  const padR = p.c === 5 ? 36 : PAD;
  const padB = p.r === 4 ? 30 : PAD;
  const L = COL_EDGES[p.c], R = COL_EDGES[p.c + 1];
  const T = ROW_EDGES[p.r], B = ROW_EDGES[p.r + 1];
  return {
    padL, padR, padT: PAD, padB,
    left: L - padL, top: T - PAD,
    width: R - L + padL + padR, height: B - T + PAD + padB,
  };
}

const axesPlugin = {
  id: 'panelAxes',
  afterDatasetsDraw(chart: any, _args: any, opts: any) {
    const { ctx, chartArea: a, scales } = chart;
    const xs = scales.x, ys = scales.y;
    ctx.save();
    ctx.strokeStyle = '#000';
    ctx.lineWidth = 1.6;
    ctx.strokeRect(a.left, a.top, a.right - a.left, a.bottom - a.top);
    ctx.lineWidth = 1.3;
    ctx.beginPath();
    const xt = (v: number, len: number) => {
      const px = xs.getPixelForValue(v);
      ctx.moveTo(px, a.top - len); ctx.lineTo(px, a.top + len);
      ctx.moveTo(px, a.bottom - len); ctx.lineTo(px, a.bottom + len);
    };
    const yt = (v: number, len: number) => {
      const py = ys.getPixelForValue(v);
      if (py < a.top - 0.5 || py > a.bottom + 0.5) return;
      ctx.moveTo(a.left - len, py); ctx.lineTo(a.left + len, py);
      ctx.moveTo(a.right - len, py); ctx.lineTo(a.right + len, py);
    };
    opts.xMajor.forEach((v: number) => xt(v, 5));
    opts.xMinor.forEach((v: number) => xt(v, 3));
    opts.yMajor.forEach((v: number) => yt(v, 5));
    opts.yMinor.forEach((v: number) => yt(v, 3));
    ctx.stroke();
    ctx.fillStyle = '#000';
    ctx.font = TICK_FONT + 'px "DejaVu Sans"';
    ctx.textBaseline = 'alphabetic';
    if (opts.yLabels) {
      ctx.textAlign = 'right';
      opts.yLabels.forEach((v: number) => {
        const py = ys.getPixelForValue(v);
        ctx.fillText(String(v), a.left - 6, py + 0.364 * TICK_FONT);
      });
    }
    if (opts.xLabels) {
      ctx.textAlign = 'center';
      opts.xLabels.forEach((v: number) => {
        const px = xs.getPixelForValue(v);
        ctx.fillText(v.toFixed(2), px, a.bottom + 22);
      });
    }
    ctx.restore();
  },
};

const toXY = (a: Pt[]) => a.map(([x, y]) => ({ x, y }));

function buildConfig(p: Panel): any {
  const g = geom(p);
  const datasets: any[] = [];
  for (const [color, kind, pts] of p.obs) {
    datasets.push({
      type: 'line',
      data: toXY(pts),
      showLine: false,
      clip: false,
      pointStyle: kind === 'sq' ? 'rect' : 'triangle',
      pointRotation: kind === 'dn' ? 180 : 0,
      pointRadius: kind === 'sq' ? 8.5 : 7,
      pointBackgroundColor: kind === 'sq' ? color : 'rgba(0,0,0,0)',
      pointBorderColor: color,
      pointBorderWidth: kind === 'sq' ? 0 : 1.6,
    });
  }
  datasets.push({
    type: 'line', data: toXY(p.med), borderColor: LINE_COLORS[p.r], borderWidth: 2.3,
    pointRadius: 0, fill: false, tension: 0,
  });
  datasets.push({
    type: 'line', data: toXY([...p.up, ...p.lo.slice().reverse()]),
    borderColor: 'rgba(0,0,0,0)', borderWidth: 0, backgroundColor: BAND_COLORS[p.r],
    fill: 'shape', pointRadius: 0, tension: 0,
  });
  const yLabels = p.c === 0 ? (p.r === 0 ? Y_LABELS_HI : p.r === 4 ? Y_LABELS_SIII : Y_LABELS_ION) : null;
  const xLabels = p.r === 4 ? (p.c === 0 ? X_LABELS_FIRST : p.c === 5 ? X_LABELS_LAST : X_LABELS_MID) : null;
  return {
    type: 'line',
    data: { datasets },
    options: {
      animation: false,
      responsive: false,
      devicePixelRatio: 1,
      events: [],
      layout: { autoPadding: false, padding: { left: g.padL, right: g.padR, top: g.padT, bottom: g.padB } },
      scales: {
        x: { type: 'linear', min: 0, max: 1, display: false },
        y: { type: 'linear', min: Y_RANGES[p.r][0], max: Y_RANGES[p.r][1], display: false },
      },
      plugins: {
        legend: { display: false },
        tooltip: { enabled: false },
        panelAxes: {
          xMajor: X_MAJOR_TICKS, xMinor: X_MINOR_TICKS,
          yMajor: p.r === 0 ? HI_MAJOR_TICKS : ION_MAJOR_TICKS,
          yMinor: p.r === 0 ? HI_MINOR_TICKS : ION_MINOR_TICKS,
          yLabels, xLabels,
        },
      },
    },
    plugins: [axesPlugin],
  };
}

const SUB: React.CSSProperties = { fontSize: '0.7em', position: 'relative', top: '0.3em' };
const SUP: React.CSSProperties = { fontSize: '0.7em', position: 'relative', top: '-0.45em' };

function LegendMarker({ kind, color, left }: { kind: string; color: string; left: number }) {
  return (
    <svg width={12} height={12} style={{ position: 'absolute', left, top: 1061 }}>
      {kind === 'sq' && <rect x={1} y={0.5} width={10} height={11} fill={color} />}
      {kind === 'dn' && <polygon points="0.9,1.5 11.1,1.5 6,10.5" fill="none" stroke={color} strokeWidth={1.4} />}
      {kind === 'up' && <polygon points="0.9,10.5 11.1,10.5 6,1.5" fill="none" stroke={color} strokeWidth={1.4} />}
    </svg>
  );
}

const LEGEND_MARKER_X = [[13, 32, 45], [264, 288], [553, 566, 579], [818, 842], [1089, 1106, 1119]];
const LEGEND_TEXT_X = [69, 316, 608, 870, 1145];

export default function App() {
  const refs = useRef<(HTMLCanvasElement | null)[]>([]);
  useEffect(() => {
    const charts = PANELS.map((p, i) => new Chart(refs.current[i] as HTMLCanvasElement, buildConfig(p)));
    return () => charts.forEach((c) => c.destroy());
  }, []);

  return (
    <div style={{ position: 'absolute', left: 0, top: 0, width: 1360, height: 1082, overflow: 'hidden', background: '#fff', fontFamily: '"DejaVu Sans", sans-serif', color: '#000' }}>
      {PANELS.map((p, i) => {
        const g = geom(p);
        return (
          <canvas key={i} ref={(el) => { refs.current[i] = el; }} width={g.width} height={g.height}
            style={{ position: 'absolute', left: g.left, top: g.top, width: g.width, height: g.height, display: 'block' }} />
        );
      })}
      {MASS_EXPONENTS.map((e, c) => (
        <div key={'t' + c} style={{ position: 'absolute', left: (COL_EDGES[c] + COL_EDGES[c + 1]) / 2, top: 9, transform: 'translateX(-50%)', fontSize: 22, lineHeight: '26px', whiteSpace: 'nowrap' }}>
          M<span style={SUB}>⋆</span> = 10<span style={SUP}>{e}</span>M<span style={SUB}>⊙</span>
        </div>
      ))}
      {IONS.map((ion, r) => (
        <div key={'y' + r} style={{ position: 'absolute', left: 21, top: (ROW_EDGES[r] + ROW_EDGES[r + 1]) / 2, transform: 'translate(-50%,-50%) rotate(-90deg)', fontSize: 19.5, lineHeight: '22px', whiteSpace: 'nowrap' }}>
          Log<span style={SUB}>10</span>N<span style={SUB}>{ion}</span> [cm<span style={SUP}>−2</span>]
        </div>
      ))}
      {MASS_EXPONENTS.map((_, c) => (
        <div key={'x' + c} style={{ position: 'absolute', left: (COL_EDGES[c] + COL_EDGES[c + 1]) / 2, top: 1023, transform: 'translateX(-50%)', fontSize: 19, lineHeight: '22px', whiteSpace: 'nowrap' }}>
          R/R<span style={SUB}>200c</span>
        </div>
      ))}
      <div style={{ position: 'absolute', left: 8, top: 1050, width: 1328, height: 36, border: '1px solid #d0d0d0', borderRadius: 4, boxSizing: 'border-box' }} />
      {LEGEND_NAMES.map((name, i) => (
        <React.Fragment key={'l' + i}>
          {LEGEND_SHAPES[i].map((k, j) => (
            <LegendMarker key={j} kind={k} color={LEGEND_COLORS[i]} left={LEGEND_MARKER_X[i][j]} />
          ))}
          <div style={{ position: 'absolute', left: LEGEND_TEXT_X[i], top: 1055, fontSize: 19, lineHeight: '22px', whiteSpace: 'nowrap' }}>{name}</div>
        </React.Fragment>
      ))}
    </div>
  );
}
